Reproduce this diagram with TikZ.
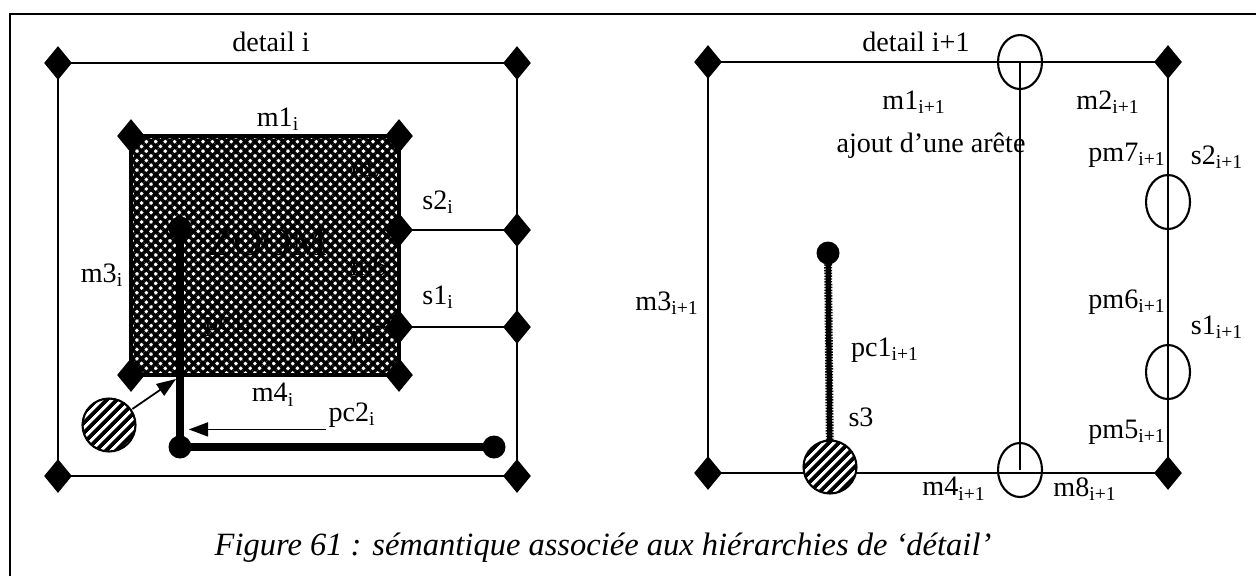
\documentclass[tikz,border=0pt]{standalone}
\usepackage{fontspec}
\setmainfont{Liberation Serif}
\usetikzlibrary{shapes.geometric,patterns.meta,arrows.meta,backgrounds}

\begin{document}
\begin{tikzpicture}[x=0.02cm,y=-0.02cm,
  vtx/.style={diamond,fill=black,inner sep=0pt,minimum width=0.56cm,minimum height=0.68cm},
  ring/.style={ellipse,draw,line width=1.2pt,inner sep=0pt,minimum width=0.88cm,minimum height=1.08cm},
  dotc/.style={circle,fill=black,inner sep=0pt,minimum size=0.46cm},
  hdisk/.style={circle,draw,line width=1.2pt,inner sep=0pt,minimum size=1.06cm,
    preaction={fill=white},pattern={Lines[angle=45,distance=4pt,line width=2.2pt]}},
  lbl/.style={font=\fontsize{16}{18}\selectfont,inner sep=1pt},
  seg/.style={line width=1.3pt},
  arr/.style={line width=1pt,-{Triangle[length=11pt,width=8pt]}}]
\useasboundingbox (0,0) rectangle (1256,576);
% frame of the figure
\draw[line width=1pt] (10,576) -- (10,14) -- (1256,14);

% detail i
\node[vtx] (lo1) at (58,63) {};
\node[vtx] (lo2) at (517,63) {};
\node[vtx] (lo3) at (517,476) {};
\node[vtx] (lo4) at (58,476) {};
\node[vtx] (li1) at (131,136) {};
\node[vtx] (li2) at (399,136) {};
\node[vtx] (li3) at (399,375) {};
\node[vtx] (li4) at (131,375) {};
\node[vtx] (ls1) at (399,230) {};
\node[vtx] (ls2) at (399,327) {};
\node[vtx] (lr1) at (517,230) {};
\node[vtx] (lr2) at (517,327) {};
\node[dotc] (ld1) at (180,228) {};
\node[dotc] (ld2) at (180,447) {};
\node[dotc] (ld3) at (494,447) {};
\node[hdisk] (lh) at (109,425) {};
\coordinate (lk) at (176,379);

\node[lbl] (tdi) at (271,42) {detail i};
\node[lbl] (tm1) at (278,119) {m1\textsubscript{i}};
\node[lbl] (tm7) at (372,170) {m7\textsubscript{i}};
\node[lbl] (ts2) at (438,202) {s2\textsubscript{i}};
\node[font=\fontsize{23}{25}\selectfont] (tzoom) at (268,242) {ZOOM};
\node[lbl] (tm3) at (102,275) {m3\textsubscript{i}};
\node[lbl] (tm6) at (372,268) {m6\textsubscript{i}};
\node[lbl] (ts1) at (438,297) {s1\textsubscript{i}};
\node[lbl] (tpc1) at (228,324) {pc1\textsubscript{i}};
\node[lbl] (tm5) at (372,338) {m5\textsubscript{i}};
\node[lbl] (tm4) at (273,395) {m4\textsubscript{i}};
\node[lbl] (tpc2) at (352,415) {pc2\textsubscript{i}};

\draw[arr] (lh) -- (lk);
\draw[arr,shorten >=5pt] (tpc2.south west) -- (tpc2.south west -| ld2);

% detail i+1
\node[vtx] (ro1) at (708,62) {};
\node[vtx] (ro2) at (1168,62) {};
\node[vtx] (ro3) at (1168,473) {};
\node[vtx] (ro4) at (708,473) {};
\node[ring] (et) at (1020,62) {};
\node[ring] (eb) at (1020,470) {};
\node[ring] (er1) at (1168,202) {};
\node[ring] (er2) at (1168,372) {};
\node[dotc] (rd) at (828,253) {};
\node[hdisk] (rh) at (830,467) {};

\node[lbl] (tdj) at (916,42) {detail i+1};
\node[lbl] (tn1) at (914,102) {m1\textsubscript{i+1}};
\node[lbl] (tn2) at (1108,102) {m2\textsubscript{i+1}};
\node[lbl] (tadd) at (931,146) {ajout d’une arête};
\node[lbl] (tp7) at (1127,155) {pm7\textsubscript{i+1}};
\node[lbl] (tt2) at (1217,157) {s2\textsubscript{i+1}};
\node[lbl] (tn3) at (667,303) {m3\textsubscript{i+1}};
\node[lbl] (tp6) at (1127,302) {pm6\textsubscript{i+1}};
\node[lbl] (tt1) at (1217,327) {s1\textsubscript{i+1}};
\node[lbl] (tq1) at (885,350) {pc1\textsubscript{i+1}};
\node[lbl] (ts3) at (861,417) {s3};
\node[lbl] (tp5) at (1127,432) {pm5\textsubscript{i+1}};
\node[lbl] (tn4) at (954,489) {m4\textsubscript{i+1}};
\node[lbl] (tn8) at (1085,489) {m8\textsubscript{i+1}};

\node[font=\fontsize{18.5}{20}\selectfont\itshape] (cap) at (603,548)
  {Figure 61 : sémantique associée aux hiérarchies de ‘détail’};

\begin{scope}[on background layer]
\fill[pattern={Hatch[angle=45,distance=3.8pt,line width=2pt]}] (li1.center) rectangle (li3.center);
\draw[seg] (lo1.center) -- (lo2.center) -- (lo3.center) -- (lo4.center) -- cycle;
\draw[line width=2pt] (li1.center) -- (li2.center) -- (li3.center) -- (li4.center) -- cycle;
\draw[seg] (ls1.center) -- (lr1.center);
\draw[seg] (ls2.center) -- (lr2.center);
\draw[line width=4.5pt] (ld1.center) -- (ld2.center) -- (ld3.center);
\draw[seg] (ro1.center) -- (ro2.center) -- (ro3.center) -- (ro4.center) -- cycle;
\draw[seg] (et.center) -- (eb.center);
\draw[line width=3pt] (rd.center) -- (rh.center);
\draw[line width=4.5pt,dash pattern=on 0.8pt off 0.8pt] (rd.center) -- (rh.center);
\end{scope}
\end{tikzpicture}
\end{document}
